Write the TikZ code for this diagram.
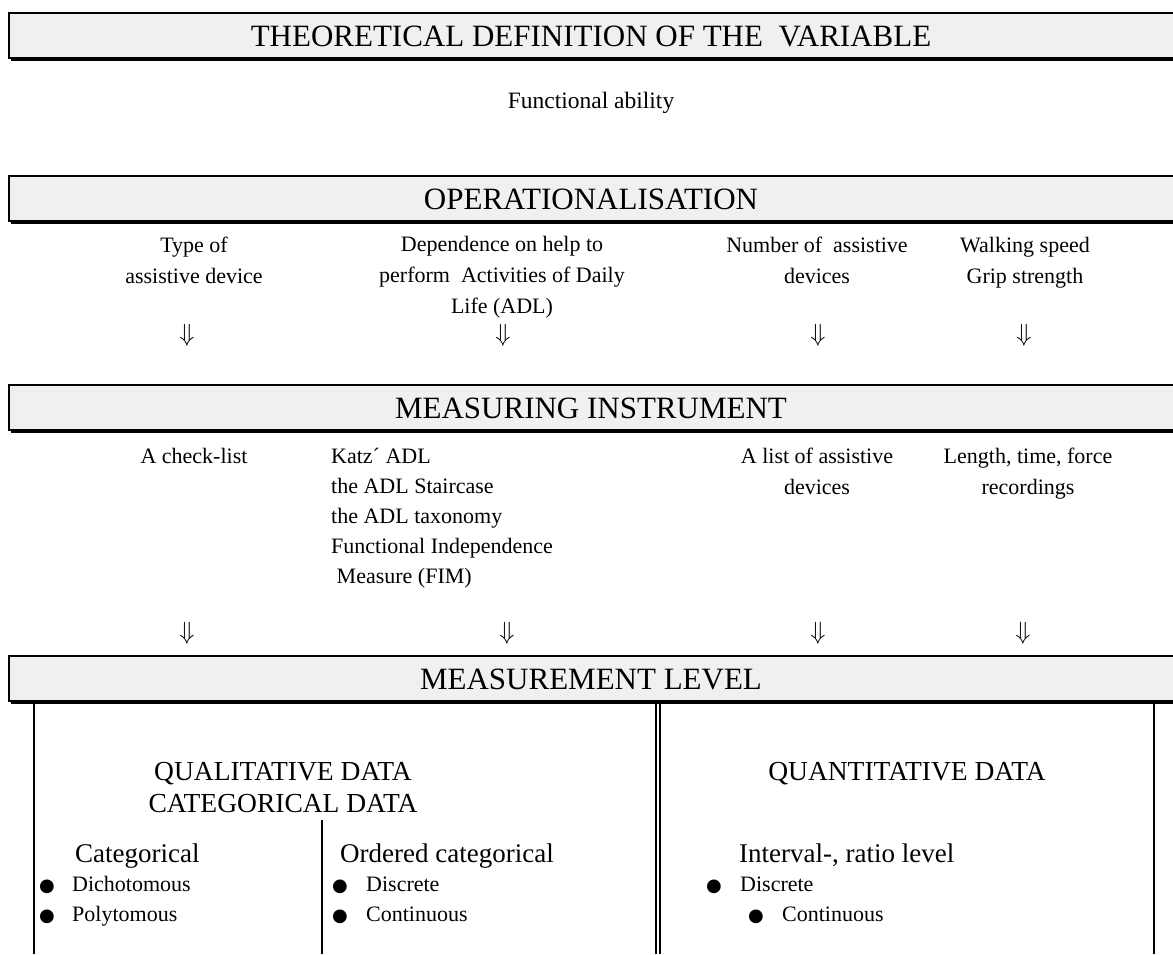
\documentclass[tikz,border=0pt]{standalone}
\usepackage{fontspec}
\setmainfont{Liberation Serif}
\newfontfamily\symfont{DejaVu Sans}
\begin{document}
\begin{tikzpicture}[x=1pt,y=-1pt,
  bannerbox/.style={draw=black,line width=2pt,fill=black!6},
  bannershadow/.style={fill=black},
  headtext/.style={font=\fontsize{31}{36}\selectfont,inner sep=0pt,anchor=base},
  bodytext/.style={font=\fontsize{23.5}{30}\selectfont,inner sep=0pt,anchor=base},
  smalltext/.style={font=\fontsize{22}{31}\selectfont,inner sep=0pt,align=center,anchor=base},
  smallleft/.style={font=\fontsize{22}{30}\selectfont,inner sep=0pt,align=left,anchor=base west},
  midtext/.style={font=\fontsize{27.5}{32}\selectfont,inner sep=0pt,align=center,anchor=base},
  midleft/.style={font=\fontsize{27}{32}\selectfont,inner sep=0pt,anchor=base west},
  arrowtext/.style={font=\fontsize{23}{28}\selectfont,inner sep=0pt,anchor=center},
  bullet/.style={font=\symfont\fontsize{18}{20}\selectfont,inner sep=0pt,anchor=base west},
  itemtext/.style={font=\fontsize{22}{26}\selectfont,inner sep=0pt,anchor=base west},
  rule/.style={line width=2pt}
]
\useasboundingbox (0,0) rectangle (1173,954);
\clip (0,0) rectangle (1173,954);

% banners
\foreach \t/\b in {13/58, 176/221, 385/430, 656/701}{
  \fill[bannershadow] (11,\t+2.5) rectangle (1200,\b+2.5);
  \path[bannerbox] (9,\t) rectangle (1200,\b);
}
\node[headtext] (h1) at (591,46) {THEORETICAL DEFINITION OF THE \ VARIABLE};
\node[bodytext] (fa) at (591,108) {Functional ability};
\node[headtext] (h2) at (591,209) {OPERATIONALISATION};
\node[smalltext] (o1) at (194,283) {Type of\\assistive device};
\node[smalltext] (o2) at (502,313) {Dependence on help to\\perform \ Activities of Daily\\Life (ADL)};
\node[smalltext] (o3) at (817,283) {Number of \ assistive\\devices};
\node[smalltext] (o4) at (1025,283) {Walking speed\\Grip strength};
\foreach \x/\n in {187/a1,503/a2,818/a3,1024/a4}{
  \node[arrowtext] (\n) at (\x,335) {$\Downarrow$};
}
\node[headtext] (h3) at (591,418) {MEASURING INSTRUMENT};
\node[smalltext] (m1) at (194,463) {A check-list};
\node[smallleft] (m2) at (331,583) {Katz\textasciiacute\ ADL\\the ADL Staircase\\the ADL taxonomy\\Functional Independence\\\ Measure (FIM)};
\node[smalltext] (m3) at (817,494) {A list of assistive\\devices};
\node[smalltext] (m4) at (1028,494) {Length, time, force\\recordings};
\foreach \x/\n in {187/b1,507/b2,818/b3,1023/b4}{
  \node[arrowtext] (\n) at (\x,633) {$\Downarrow$};
}
\node[headtext] (h4) at (591,689) {MEASUREMENT LEVEL};

% lower box
\coordinate (lt) at (34,703);
\coordinate (lb) at (34,954);
\coordinate (d1t) at (656,703);
\coordinate (d1b) at (656,954);
\coordinate (d2t) at (660,703);
\coordinate (d2b) at (660,954);
\coordinate (rt) at (1154,703);
\coordinate (rb) at (1154,954);
\coordinate (mt) at (322,820);
\coordinate (mb) at (322,954);
\draw[rule] (lt) -- (lb);
\draw[line width=1.3pt] (d1t) -- (d1b);
\draw[line width=1.3pt] (d2t) -- (d2b);
\draw[rule] (rt) -- (rb);
\draw[line width=1.5pt] (mt) -- (mb);

\node[midtext] (ql) at (283,812) {QUALITATIVE DATA\\CATEGORICAL DATA};
\node[midtext] (qn) at (907,780) {QUANTITATIVE DATA};
\node[midleft] (c1) at (75,862) {Categorical};
\node[midleft] (c2) at (340,862) {Ordered categorical};
\node[midleft] (c3) at (739,862) {Interval-, ratio level};

\node[bullet] (u1) at (39,891) {●};
\node[itemtext] (t1) at (72,891) {Dichotomous};
\node[bullet] (u2) at (39,921) {●};
\node[itemtext] (t2) at (72,921) {Polytomous};
\node[bullet] (u3) at (332,891) {●};
\node[itemtext] (t3) at (366,891) {Discrete};
\node[bullet] (u4) at (332,921) {●};
\node[itemtext] (t4) at (366,921) {Continuous};
\node[bullet] (u5) at (706,891) {●};
\node[itemtext] (t5) at (740,891) {Discrete};
\node[bullet] (u6) at (748,921) {●};
\node[itemtext] (t6) at (782,921) {Continuous};
\end{tikzpicture}
\end{document}
